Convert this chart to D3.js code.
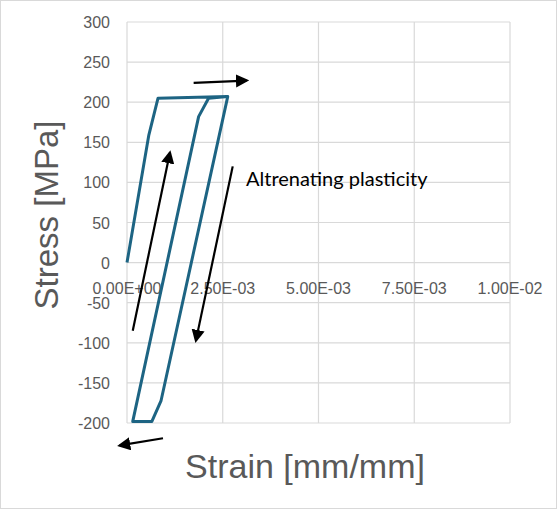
<!DOCTYPE html>
<html><head><meta charset="utf-8">
<script src="https://cdn.jsdelivr.net/npm/d3@7"></script>
<style>body{margin:0;background:#fff;font-family:"Liberation Sans",Arial,sans-serif}</style>
</head><body><svg id="c" width="557" height="509"></svg>
<script>
var strain = [0, 5.7e-4, 8.1e-4, 2.63e-3, 8.9e-4, 6.5e-4, 1.5e-4, 1.87e-3, 2.13e-3, 2.63e-3];
var stress = [0, 159, 205, 207, -172, -198, -198, 182, 205, 207];
var xTicks = [0, 2.5e-3, 5e-3, 7.5e-3, 1e-2];
var xTickLabels = ["0.00E+00", "2.50E-03", "5.00E-03", "7.50E-03", "1.00E-02"];
var yTicks = [-200, -150, -100, -50, 0, 50, 100, 150, 200, 250, 300];
// annotation arrows: [x1, y1, x2, y2] in data units
var arrows = [
	[1.5e-4, -85, 1.12e-3, 137],
	[2.76e-3, 120, 1.8e-3, -97],
	[1.74e-3, 224, 3.12e-3, 227],
	[9.4e-4, -219, -1.9e-4, -228]
];

var svg = d3.select("#c");
svg.append("rect").attr("x", 0.5).attr("y", 0.5).attr("width", 556).attr("height", 508)
	.attr("fill", "#fff").attr("stroke", "#d9d9d9");

var x = d3.scaleLinear().domain([0, 1e-2]).range([127, 510]);
var y = d3.scaleLinear().domain([-200, 300]).range([423, 22]);

var defs = svg.append("defs");
defs.append("marker").attr("id", "ah").attr("viewBox", "0 0 10 10").attr("refX", 8).attr("refY", 5)
	.attr("markerWidth", 6).attr("markerHeight", 6).attr("orient", "auto")
	.append("path").attr("d", "M0,0 L10,5 L0,10 z").attr("fill", "#000");

var grid = svg.append("g").attr("stroke", "#d9d9d9").attr("stroke-width", 1.2);
yTicks.forEach(function (t) {
	grid.append("line").attr("x1", x(0)).attr("x2", x(1e-2)).attr("y1", y(t)).attr("y2", y(t));
});
xTicks.forEach(function (t) {
	grid.append("line").attr("x1", x(t)).attr("x2", x(t)).attr("y1", y(-200)).attr("y2", y(300));
});

var lbl = svg.append("g").attr("fill", "#595959").attr("font-size", 16);
yTicks.forEach(function (t) {
	lbl.append("text").attr("x", 110).attr("y", y(t) + 6).attr("text-anchor", "end").text(t);
});
xTicks.forEach(function (t, i) {
	lbl.append("text").attr("x", x(t)).attr("y", y(0) + 31).attr("text-anchor", "middle").text(xTickLabels[i]);
});

var line = d3.line().x(function (d) { return x(d[0]); }).y(function (d) { return y(d[1]); });
svg.append("path").datum(d3.zip(strain, stress)).attr("d", line)
	.attr("fill", "none").attr("stroke", "#1d6483").attr("stroke-width", 3).attr("stroke-linejoin", "round");

arrows.forEach(function (a) {
	svg.append("line").attr("x1", x(a[0])).attr("y1", y(a[1])).attr("x2", x(a[2])).attr("y2", y(a[3]))
		.attr("stroke", "#000").attr("stroke-width", 2.2).attr("marker-end", "url(#ah)");
});

svg.append("text").attr("x", 246).attr("y", 186).attr("font-size", 20).attr("fill", "#000")
	.attr("font-family", "Lato, 'Open Sans', sans-serif").text("Altrenating plasticity");

svg.append("text").attr("transform", "translate(58,215) rotate(-90)").attr("text-anchor", "middle")
	.attr("font-size", 33).attr("fill", "#595959").text("Stress [MPa]");
svg.append("text").attr("x", 305).attr("y", 478).attr("text-anchor", "middle")
	.attr("font-size", 34).attr("fill", "#595959").text("Strain [mm/mm]");
</script></body></html>
